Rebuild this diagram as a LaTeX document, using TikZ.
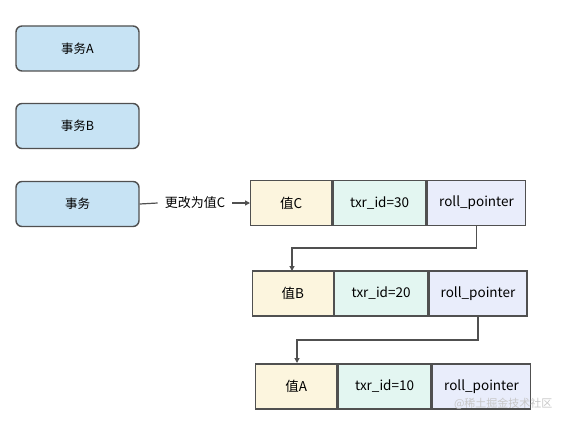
\documentclass[tikz,border=0pt]{standalone}
\usepackage{fontspec}
\setmainfont{Noto Sans CJK SC}
\usetikzlibrary{arrows.meta}
\definecolor{edge}{HTML}{505050}
\definecolor{txblue}{HTML}{C7E3F4}
\definecolor{valy}{HTML}{FCF5DE}
\definecolor{idc}{HTML}{E3F6F1}
\definecolor{rpc}{HTML}{E9EDFB}
\tikzset{
  txbox/.style={draw=edge, line width=1.4pt, fill=txblue, rounded corners=6pt, minimum width=123pt, minimum height=45pt, inner sep=0pt, font=\fontsize{12.5}{14}\selectfont},
  cell/.style={draw=edge, line width=1.4pt, minimum height=45pt, inner sep=0pt, font=\fontsize{13.5}{15}\selectfont},
  valcell/.style={cell, fill=valy, minimum width=81pt},
  idcell/.style={cell, fill=idc, minimum width=93pt},
  rpcell/.style={cell, fill=rpc, minimum width=98pt},
  link/.style={draw=edge, line width=1.2pt, -{Triangle[length=5pt,width=5pt]}},
}
\begin{document}
\begin{tikzpicture}[x=1pt,y=-1pt]
\useasboundingbox (0,0) rectangle (567,425);
\node[txbox] (ta) at (77.5,48.5) {事务A};
\node[txbox] (tb) at (77.5,126) {事务B};
\node[txbox] (tc) at (77.5,204) {事务};
% row 1
\node[valcell, anchor=west] (v1) at (250,203) {值C};
\node[idcell, anchor=west] (i1) at (v1.east) {txr\_id=30};
\node[rpcell, anchor=west] (r1) at (i1.east) {roll\_pointer};
% row 2
\node[valcell, anchor=west] (v2) at (251.5,293.5) {值B};
\node[idcell, anchor=west] (i2) at (v2.east) {txr\_id=20};
\node[rpcell, anchor=west] (r2) at (i2.east) {roll\_pointer};
% row 3
\node[valcell, anchor=west] (v3) at (255,386.5) {值A};
\node[idcell, anchor=west] (i3) at (v3.east) {txr\_id=10};
\node[rpcell, anchor=west] (r3) at (i3.east) {roll\_pointer};
% label
\node[font=\fontsize{13}{15}\selectfont, inner xsep=7pt, inner ysep=1pt] (lbl) at (195,203) {更改为值C};
\draw[draw=edge, line width=1.2pt] (tc.east) -- (lbl.west);
\draw[link] (lbl.east) -- (v1.west);
% links
\draw[link] (r1.south) |- (292,248) -- (292,271);
\draw[link] (r2.south) |- (297,340) -- (297,363);
% watermark
\node[text=black!22, font=\fontsize{11}{12}\selectfont, anchor=east] (wm) at (556,404) {@稀土掘金技术社区};
\end{tikzpicture}
\end{document}
